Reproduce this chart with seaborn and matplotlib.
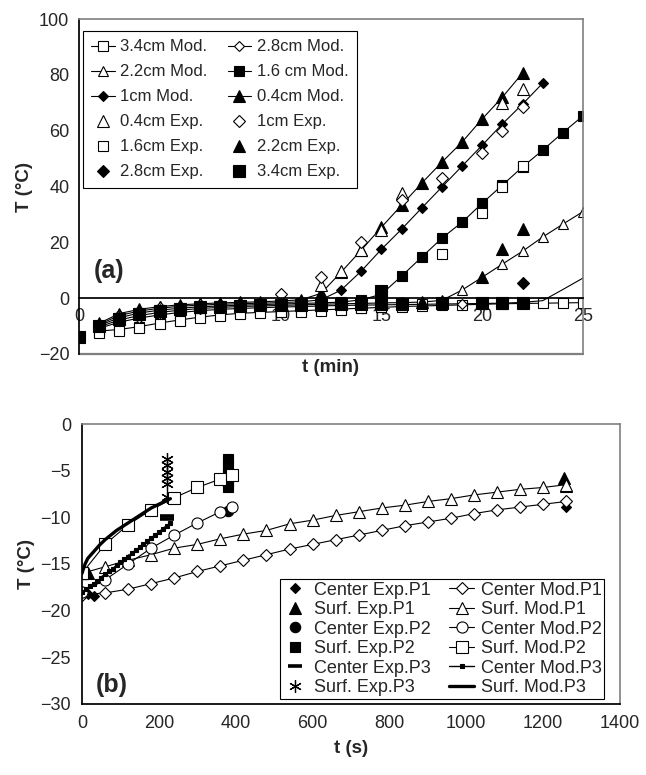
import matplotlib
matplotlib.use("Agg")
import matplotlib.pyplot as plt
import seaborn as sns

sns.set_theme(style="white")
plt.rcParams["font.family"] = ["Liberation Sans", "DejaVu Sans"]

# ---------------- (a) data: time in min, T in degC ----------------
t_04_mod = list(range(1, 23))
T_04_mod = [-9.0, -5.5, -4.0, -3.0, -2.4, -2.0, -1.7, -1.5, -1.3, -1.0, -0.6, 1.7,
            9.3, 17.2, 25.4, 33.3, 41.2, 48.7, 55.9, 64.2, 72.0, 80.6]
t_1_mod = list(range(1, 24))
T_1_mod = [-9.4, -6.2, -4.6, -3.6, -2.9, -2.5, -2.2, -2.0, -1.8, -1.6, -1.3, -0.6,
           2.9, 9.7, 17.5, 24.7, 32.3, 39.8, 47.3, 54.8, 62.4, 69.5, 77.0]
t_16_mod = list(range(1, 26))
T_16_mod = [-9.8, -7.0, -5.3, -4.3, -3.6, -3.1, -2.8, -2.5, -2.3, -2.1, -1.9, -1.7,
            -1.4, -0.6, 1.4, 7.9, 14.7, 21.5, 27.2, 34.0, 40.5, 47.0, 53.0, 59.3, 65.3]
t_22_mod = list(range(1, 26))
T_22_mod = [-10.3, -7.8, -6.2, -5.1, -4.3, -3.7, -3.3, -3.0, -2.8, -2.6, -2.4, -2.2,
            -2.0, -1.9, -1.7, -1.6, -1.4, -0.8, 2.9, 7.5, 12.2, 16.8, 21.9, 26.5, 31.0]
t_28_mod = list(range(1, 26))
T_28_mod = [-10.8, -8.6, -7.1, -6.0, -5.1, -4.5, -4.0, -3.7, -3.4, -3.2, -3.0, -2.8,
            -2.6, -2.5, -2.4, -2.3, -2.2, -2.1, -2.0, -1.9, -1.8, -1.5, -0.9, 3.1, 7.2]
t_34_mod = list(range(1, 26))
T_34_mod = [-11.8, -11.2, -10.2, -8.9, -7.8, -6.8, -6.0, -5.4, -5.1, -4.8, -4.5, -4.2,
            -3.9, -3.6, -3.3, -3.0, -2.8, -2.6, -2.4, -2.2, -2.0, -1.9, -1.8, -1.7, -1.6]

t_04_exp = [2, 4, 6, 8, 10, 12, 13, 14, 15, 16, 21, 22]
T_04_exp = [-6.0, -3.2, -2.2, -1.7, -0.5, 4.6, 9.8, 17.2, 24.3, 37.6, 70.0, 75.0]
t_1_exp = [2, 4, 6, 8, 10, 12, 14, 16, 18, 20, 21, 22]
T_1_exp = [-6.5, -3.6, -2.5, -2.0, 1.4, 7.5, 20.0, 35.0, 43.0, 52.0, 60.0, 68.5]
t_16_exp = [1, 2, 3, 4, 5, 6, 7, 8, 9, 10, 11, 12, 13, 14, 15, 16, 17, 18, 20, 21, 22]
T_16_exp = [-12.3, -11.6, -10.6, -9.3, -8.2, -7.1, -6.3, -5.7, -5.4, -5.1, -4.8, -4.5,
            -4.1, -3.6, -3.1, -2.6, -2.2, 15.8, 30.5, 39.8, 47.5]
t_22_exp = [2, 4, 6, 8, 10, 12, 14, 16, 17, 18, 20, 21, 22]
T_22_exp = [-6.8, -4.2, -3.0, -2.5, -2.2, -2.0, -1.8, -1.6, -1.5, -1.2, 7.5, 17.6, 24.7]
t_28_exp = [2, 4, 6, 8, 10, 12, 14, 16, 18, 20, 22]
T_28_exp = [-7.5, -4.8, -3.5, -2.8, -2.4, -2.2, -2.0, -1.9, -1.8, -1.7, 5.4]
t_34_exp = [0, 1, 2, 3, 4, 5, 6, 7, 8, 9, 10, 11, 12, 13, 14, 15, 15, 16, 18, 20, 21, 22]
T_34_exp = [-14.0, -10.0, -7.5, -5.5, -4.5, -3.8, -3.3, -3.0, -2.8, -2.6, -2.5, -2.4,
            -2.3, -2.2, -2.1, -2.0, 2.5, -2.0, -1.9, -1.8, -1.8, -1.8]

xticks_a = [0, 5, 10, 15, 20, 25]
yticks_a = [-20, 0, 20, 40, 60, 80, 100]

# ---------------- (b) data: time in s, T in degC ----------------
t_P1_mod = [0, 60, 120, 180, 240, 300, 360, 420, 480, 540, 600, 660, 720, 780, 840,
            900, 960, 1020, 1080, 1140, 1200, 1260]
T_c_P1_mod = [-18.3, -18.1, -17.7, -17.1, -16.5, -15.8, -15.2, -14.6, -14.0, -13.4,
              -12.9, -12.4, -11.9, -11.4, -10.9, -10.5, -10.1, -9.6, -9.2, -8.9, -8.6, -8.3]
T_s_P1_mod = [-16.0, -15.3, -14.6, -14.0, -13.3, -12.9, -12.3, -11.8, -11.4, -10.7,
              -10.3, -9.8, -9.4, -9.0, -8.7, -8.3, -8.0, -7.6, -7.3, -7.0, -6.8, -6.5]
t_P2_mod = [0, 60, 120, 180, 240, 300, 360, 390]
T_c_P2_mod = [-18.0, -16.7, -15.0, -13.3, -11.9, -10.6, -9.4, -8.9]
T_s_P2_mod = [-16.0, -12.9, -10.8, -9.2, -7.9, -6.8, -5.9, -5.5]
t_c_P3_mod = [0, 10, 20, 30, 40, 50, 60, 70, 80, 90, 100, 110, 120, 130, 140, 150,
              160, 170, 180, 190, 200, 210, 220, 230]
T_c_P3_mod = [-18.0, -17.7, -17.4, -17.1, -16.8, -16.5, -16.1, -15.8, -15.5, -15.1,
              -14.8, -14.5, -14.2, -13.8, -13.5, -13.2, -12.9, -12.5, -12.2, -11.9,
              -11.6, -11.2, -10.9, -10.6]
t_s_P3_mod = [0, 3, 8, 15, 30, 45, 60, 90, 120, 150, 180, 210, 230]
T_s_P3_mod = [-16.0, -15.6, -15.0, -14.4, -13.7, -13.0, -12.4, -11.4, -10.6, -9.8,
              -9.0, -8.4, -8.0]

t_c_P1_exp = [0, 15, 30, 1260]
T_c_P1_exp = [-18.0, -18.2, -18.4, -8.9]
t_s_P1_exp = [0, 15, 1255, 1260]
T_s_P1_exp = [-16.0, -16.0, -5.8, -6.6]
t_c_P2_exp = [0, 380]
T_c_P2_exp = [-18.0, -9.3]
t_s_P2_exp = [0, 380, 380, 380, 380, 380]
T_s_P2_exp = [-16.0, -3.8, -4.6, -5.4, -6.2, -6.8]
t_c_P3_exp = [222, 222]
T_c_P3_exp = [-9.9, -10.2]
t_s_P3_exp = [0, 222, 222, 222, 222, 222, 222]
T_s_P3_exp = [-16.0, -3.7, -4.4, -5.1, -5.8, -6.4, -7.8]

xticks_b = [0, 200, 400, 600, 800, 1000, 1200, 1400]
yticks_b = [-30, -25, -20, -15, -10, -5, 0]

GREY = "#7f7f7f"
W, H = 646, 775
fig = plt.figure(figsize=(W / 100, H / 100), dpi=100)
ax1 = fig.add_axes([79 / W, 1 - 354 / H, 504 / W, 335 / H])
ax2 = fig.add_axes([82 / W, 1 - 704 / H, 538 / W, 280 / H])


def draw(ax, x, y, label, marker, ms, fill, ls="-", lw=0.8, mew=0.8, **kw):
    sns.lineplot(x=x, y=y, ax=ax, label=label, marker=marker, markersize=ms,
                 markerfacecolor="black" if fill else "white",
                 markeredgecolor="black", markeredgewidth=mew, color="black",
                 linewidth=lw, linestyle=ls, estimator=None, errorbar=None,
                 sort=False, legend=False, **kw)
    return ax.get_lines()[-1]


# ---- (a) ----
h = {}
h["34m"] = draw(ax1, t_34_mod, T_34_mod, "3.4cm Mod.", "s", 7, False)
h["28m"] = draw(ax1, t_28_mod, T_28_mod, "2.8cm Mod.", "D", 5.5, False, markevery=slice(0, 22))
h["22m"] = draw(ax1, t_22_mod, T_22_mod, "2.2cm Mod.", "^", 7.5, False)
h["16m"] = draw(ax1, t_16_mod, T_16_mod, "1.6 cm Mod.", "s", 7.5, True)
h["1m"] = draw(ax1, t_1_mod, T_1_mod, "1cm Mod.", "D", 5.5, True)
h["04m"] = draw(ax1, t_04_mod, T_04_mod, "0.4cm Mod.", "^", 8, True)
h["04e"] = draw(ax1, t_04_exp, T_04_exp, "0.4cm Exp.", "^", 8, False, ls="none")
h["1e"] = draw(ax1, t_1_exp, T_1_exp, "1cm Exp.", "D", 6, False, ls="none")
h["16e"] = draw(ax1, t_16_exp, T_16_exp, "1.6cm Exp.", "s", 7.5, False, ls="none")
h["22e"] = draw(ax1, t_22_exp, T_22_exp, "2.2cm Exp.", "^", 8, True, ls="none")
h["28e"] = draw(ax1, t_28_exp, T_28_exp, "2.8cm Exp.", "D", 6, True, ls="none")
h["34e"] = draw(ax1, t_34_exp, T_34_exp, "3.4cm Exp.", "s", 8, True, ls="none")

ax1.set_xlim(0, 25)
ax1.set_ylim(-20, 100)
ax1.set_xticks(xticks_a)
ax1.set_yticks(yticks_a)
ax1.spines["bottom"].set_position(("data", 0))
ax1.spines["bottom"].set_color("black")
ax1.spines["left"].set_color("black")
for s in ("top", "right"):
    ax1.spines[s].set_color(GREY)
    ax1.spines[s].set_linewidth(1.2)
ax1.axhline(-20, color=GREY, lw=1.6, clip_on=False, zorder=0)
ax1.tick_params(axis="both", direction="out", length=5, width=0.8, labelsize=13,
                color="black", pad=2)
ax1.tick_params(axis="x", length=4, pad=3)
ax1.set_xlabel("")
ax1.set_ylabel("T (°C)", fontsize=13.5, fontweight="bold", labelpad=4)
fig.text(330 / W, 1 - 367 / H, "t (min)", fontsize=13.5, fontweight="bold",
         ha="center", va="center")
ax1.text(1.5, 9.7, "(a)", fontsize=18, fontweight="bold", ha="center", va="center")

order_a = ["34m", "22m", "1m", "04e", "16e", "28e", "28m", "16m", "04m", "1e", "22e", "34e"]
leg1 = ax1.legend([h[k] for k in order_a], [h[k].get_label() for k in order_a],
                  ncol=2, loc="upper left", bbox_to_anchor=(83 / W, 1 - 31 / H),
                  bbox_transform=fig.transFigure, borderaxespad=0, fontsize=12,
                  frameon=True, fancybox=False, framealpha=1, edgecolor="black",
                  labelspacing=0.6, handlelength=1.4, handletextpad=0.35,
                  columnspacing=1.2, borderpad=0.5)
leg1.get_frame().set_linewidth(0.8)

# ---- (b) ----
hb = []
hb.append(draw(ax2, t_c_P1_exp, T_c_P1_exp, "Center Exp.P1", "D", 5.5, True, ls="none"))
hb.append(draw(ax2, t_s_P1_exp, T_s_P1_exp, "Surf. Exp.P1", "^", 8, True, ls="none"))
hb.append(draw(ax2, t_c_P2_exp, T_c_P2_exp, "Center Exp.P2", "o", 7.5, True, ls="none"))
hb.append(draw(ax2, t_s_P2_exp, T_s_P2_exp, "Surf. Exp.P2", "s", 7.5, True, ls="none"))
hb.append(draw(ax2, t_c_P3_exp, T_c_P3_exp, "Center Exp.P3", "_", 10, True, ls="none", mew=2.6))
hb.append(draw(ax2, t_s_P3_exp, T_s_P3_exp, "Surf. Exp.P3", (6, 2, 0), 9, True, ls="none", mew=0.9))
hb.append(draw(ax2, t_P1_mod, T_c_P1_mod, "Center Mod.P1", "D", 6, False))
hb.append(draw(ax2, t_P1_mod, T_s_P1_mod, "Surf. Mod.P1", "^", 8, False))
hb.append(draw(ax2, t_P2_mod, T_c_P2_mod, "Center Mod.P2", "o", 8, False))
hb.append(draw(ax2, t_P2_mod, T_s_P2_mod, "Surf. Mod.P2", "s", 8, False))
hb.append(draw(ax2, t_c_P3_mod, T_c_P3_mod, "Center Mod.P3", "s", 3, True, lw=1.0))
hb.append(draw(ax2, t_s_P3_mod, T_s_P3_mod, "Surf. Mod.P3", None, 0, True, lw=2.4))

ax2.set_xlim(0, 1400)
ax2.set_ylim(-30, 0)
ax2.set_xticks(xticks_b)
ax2.set_yticks(yticks_b)
ax2.spines["bottom"].set_color("black")
ax2.spines["left"].set_color("black")
for s in ("top", "right"):
    ax2.spines[s].set_color(GREY)
    ax2.spines[s].set_linewidth(1.2)
ax2.tick_params(axis="both", direction="out", length=5, width=0.8, labelsize=13,
                color="black", pad=3)
ax2.set_xlabel("t (s)", fontsize=13.5, fontweight="bold", labelpad=6)
ax2.set_ylabel("T (°C)", fontsize=13.5, fontweight="bold", labelpad=4)
ax2.text(78, -28, "(b)", fontsize=18, fontweight="bold", ha="center", va="center")

leg2 = ax2.legend(hb, [x.get_label() for x in hb], ncol=2, loc="lower left",
                  bbox_to_anchor=(280 / W, 1 - 699 / H), bbox_transform=fig.transFigure,
                  borderaxespad=0, fontsize=13, frameon=True, fancybox=False,
                  framealpha=1, edgecolor="black", labelspacing=0.14,
                  handlelength=1.4, handletextpad=0.35, columnspacing=1.0,
                  borderpad=0.15)
leg2.get_frame().set_linewidth(0.8)

fig.savefig("out.png", dpi=100)
